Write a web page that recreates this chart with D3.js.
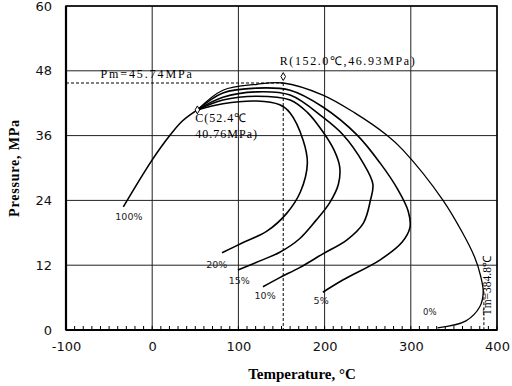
<!DOCTYPE html>
<html>
<head>
<meta charset="UTF-8">
<script src="https://cdn.jsdelivr.net/npm/d3@7"></script>
<style>
  body { margin: 0; background: #fff; }
  text { fill: #000; }
</style>
</head>
<body>
<div id="chart"></div>
<script>
// tick values
const xTicks = [-100, 0, 100, 200, 300, 400];
const yTicks = [0, 12, 24, 36, 48, 60];

// phase envelope curves [temperature C, pressure MPa]
const curve100 = [[-33.5, 22.8], [0, 31.5], [20.8, 36.1], [35, 38.7], [52.4, 40.76]];
const curve20 = [[52.4, 40.76], [82, 41.9], [121.5, 42.4], [148, 41.7], [160, 40.2], [175, 35.2], [180, 30.9], [172, 25.6], [156, 21.6], [133, 18.3], [105.5, 16.2], [81, 14.3]];
const curve15 = [[52.4, 40.76], [82, 42.6], [121.5, 43.3], [160, 42.6], [180, 40.3], [198, 36.7], [211, 33.3], [217.5, 30.2], [216, 27], [206, 23.6], [190, 20.3], [171, 16.9], [148, 14.4], [125, 12.8], [99.4, 11.1]];
const curve10 = [[52.4, 40.76], [82, 43.1], [121.5, 44.1], [160, 43.5], [198, 39.4], [221.6, 36.1], [244.8, 30.9], [256, 27], [253, 23.9], [245, 19.8], [226, 16.7], [198, 14.1], [171.5, 11.6], [148, 9.7], [128.5, 8.0]];
const curve5 = [[52.4, 40.76], [82, 43.9], [121.5, 44.8], [160, 44.4], [198, 41.3], [237.8, 36.1], [264.5, 30.9], [285, 26], [297, 22], [299, 19], [290, 16.3], [264.5, 13], [221.6, 9.3], [198, 7.0]];
const curve0 = [[52.4, 40.76], [82, 44.4], [121.5, 45.5], [152, 45.74], [198, 43.5], [235, 40.2], [272, 36.1], [291, 33.3], [337, 24.1], [360, 18], [374, 13.5], [381, 10], [384, 7], [380, 4.3], [364, 1.7], [331, 0.4]];

// special points
const pointC = [52.4, 40.76];
const pointR = [152.0, 46.93];
const pm = 45.74;
const tm = 384.8;

// curve labels [text, T, P]
const curveLabels = [
  ["100%", -27, 20.3],
  ["20%", 75, 11.4],
  ["15%", 101, 8.6],
  ["10%", 131, 5.7],
  ["5%", 196, 4.9],
  ["0%", 322, 2.8]
];

const margin = {top: 6, right: 15, bottom: 56, left: 66},
      width = 512 - margin.left - margin.right,
      height = 386 - margin.top - margin.bottom;

const svg = d3.select("#chart")
  .append("svg")
  .attr("width", 512)
  .attr("height", 386)
  .append("g")
  .attr("transform", `translate(${margin.left}, ${margin.top})`);

const x = d3.scaleLinear().domain([-100, 400]).range([0, width]);
const y = d3.scaleLinear().domain([0, 60]).range([height, 0]);

// grid
svg.append("g")
  .selectAll("line")
  .data(xTicks)
  .join("line")
  .attr("x1", d => x(d)).attr("x2", d => x(d))
  .attr("y1", 0).attr("y2", height)
  .style("stroke", "#222")
  .style("stroke-width", 1);
svg.append("g")
  .selectAll("line")
  .data(yTicks)
  .join("line")
  .attr("x1", 0).attr("x2", width)
  .attr("y1", d => y(d)).attr("y2", d => y(d))
  .style("stroke", "#222")
  .style("stroke-width", 1);

// minor ticks on the x axis, pointing inward
svg.append("g")
  .selectAll("line")
  .data(d3.range(-100, 401, 10))
  .join("line")
  .attr("x1", d => x(d)).attr("x2", d => x(d))
  .attr("y1", height).attr("y2", height - 4)
  .style("stroke", "#000")
  .style("stroke-width", 1);

// frame
svg.append("rect")
  .attr("width", width)
  .attr("height", height)
  .style("fill", "none")
  .style("stroke", "#000")
  .style("stroke-width", 1.5);
svg.append("line")
  .attr("x1", 0).attr("x2", width).attr("y1", height).attr("y2", height)
  .style("stroke", "#000").style("stroke-width", 2.2);
svg.append("line")
  .attr("x1", 0).attr("x2", 0).attr("y1", 0).attr("y2", height)
  .style("stroke", "#000").style("stroke-width", 2.2);

// tick labels (plain hyphen for negatives, like the original)
const xAxis = svg.append("g")
  .attr("transform", `translate(0, ${height})`)
  .call(d3.axisBottom(x).tickValues(xTicks).tickFormat(d => String(d)).tickSize(0).tickPadding(12));
const yAxis = svg.append("g")
  .call(d3.axisLeft(y).tickValues(yTicks).tickFormat(d => String(d)).tickSize(0).tickPadding(14));
[xAxis, yAxis].forEach(a => {
  a.select(".domain").remove();
  a.selectAll("text")
    .style("font-family", "'DejaVu Sans', sans-serif")
    .style("font-size", "13px")
    .style("fill", "#111");
});

// axis titles
svg.append("text")
  .attr("x", 236)
  .attr("y", height + 49)
  .attr("text-anchor", "middle")
  .style("font-family", "'Liberation Serif', serif")
  .style("font-weight", "bold")
  .style("font-size", "15px")
  .text("Temperature, °C");
svg.append("text")
  .attr("transform", `translate(-47, 162) rotate(-90)`)
  .attr("text-anchor", "middle")
  .style("font-family", "'Liberation Serif', serif")
  .style("font-weight", "bold")
  .style("font-size", "14px")
  .style("letter-spacing", "0.8px")
  .text("Pressure, MPa");

// dashed guide lines
const dash = "3,2";
svg.append("line")
  .attr("x1", x(-100)).attr("x2", x(pointR[0]))
  .attr("y1", y(pm)).attr("y2", y(pm))
  .style("stroke", "#000").style("stroke-dasharray", dash).style("stroke-width", 1);
svg.append("line")
  .attr("x1", x(pointR[0])).attr("x2", x(pointR[0]))
  .attr("y1", y(pm)).attr("y2", y(0))
  .style("stroke", "#000").style("stroke-dasharray", dash).style("stroke-width", 1);
svg.append("line")
  .attr("x1", x(tm)).attr("x2", x(tm))
  .attr("y1", y(7)).attr("y2", y(0))
  .style("stroke", "#000").style("stroke-dasharray", dash).style("stroke-width", 1);

// curves
const line = d3.line()
  .x(d => x(d[0]))
  .y(d => y(d[1]))
  .curve(d3.curveCatmullRom.alpha(0.5));

const curves = [curve100, curve20, curve15, curve10, curve5, curve0];
svg.append("g")
  .selectAll("path")
  .data(curves)
  .join("path")
  .attr("d", line)
  .style("fill", "none")
  .style("stroke", "#000")
  .style("stroke-width", (d, i) => i === 5 ? 1.3 : 1.6);

// markers
const diamond = d3.symbol().type(d3.symbolDiamond).size(18);
svg.append("path")
  .attr("d", diamond)
  .attr("transform", `translate(${x(pointC[0])}, ${y(pointC[1])})`)
  .style("fill", "#fff").style("stroke", "#000").style("stroke-width", 1);
svg.append("path")
  .attr("d", diamond)
  .attr("transform", `translate(${x(pointR[0])}, ${y(pointR[1])})`)
  .style("fill", "#fff").style("stroke", "#000").style("stroke-width", 1);

// annotations
const serif = "'Liberation Serif', serif";
function note(txt, tx, ty, ls) {
  return svg.append("text")
    .attr("x", tx)
    .attr("y", ty)
    .style("font-family", serif)
    .style("font-size", "12px")
    .style("letter-spacing", ls + "px")
    .text(txt);
}
note("Pm=45.74MPa", x(-60), y(pm) - 5, 1.9);
note("R(152.0\u2103,46.93MPa)", x(148), y(49.1), 1.6);
note("C(52.4\u2103", x(50), y(38.5), 1.0);
note("40.76MPa)", x(50), y(35.6), 1.0);

svg.append("text")
  .attr("transform", `translate(${x(tm) + 7}, ${y(8.2)}) rotate(-90)`)
  .attr("text-anchor", "middle")
  .style("font-family", serif)
  .style("font-size", "11.5px")
  .text("Tm=384.8\u2103");

svg.append("g")
  .selectAll("text")
  .data(curveLabels)
  .join("text")
  .attr("x", d => x(d[1]))
  .attr("y", d => y(d[2]))
  .attr("text-anchor", "middle")
  .style("font-family", "'DejaVu Sans', sans-serif")
  .style("font-size", (d, i) => i === 5 ? "8.5px" : "9.5px")
  .style("fill", "#222")
  .text(d => d[0]);
</script>
</body>
</html>
